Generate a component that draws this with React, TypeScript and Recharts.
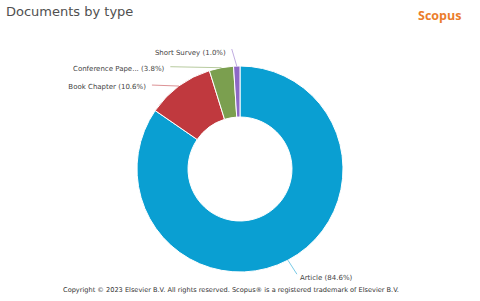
import { Cell, Pie, PieChart } from "recharts";

const categories = ["Article", "Book Chapter", "Conference Paper", "Short Survey"];
const documentShares = [84.6, 10.6, 3.8, 1.0];
const sliceColors = ["#0a9fd2", "#c0393e", "#7b9f4f", "#8d68c6"];

// where each label sits, relative to the point on the rim at the slice's middle
const labelOffsets = [
  { dx: 12, dy: 18 },
  { dx: -33, dy: 1 },
  { dx: -57, dy: 1 },
  { dx: -11, dy: -13 },
];

const RADIAN = Math.PI / 180;

const chartData = categories.map((name, i) => ({ name, value: documentShares[i] }));

function shortName(name: string) {
  return name.length > 15 ? name.slice(0, 15) + "..." : name;
}

function renderLabel(props: any) {
  const { cx, cy, midAngle, outerRadius, percent, index, name } = props;
  const ex = cx + outerRadius * Math.cos(-midAngle * RADIAN);
  const ey = cy + outerRadius * Math.sin(-midAngle * RADIAN);
  const off = labelOffsets[index];
  const lx = ex + off.dx;
  const ly = ey + off.dy;
  const right = off.dx > 0;
  const text = `${shortName(name)} (${(percent * 100).toFixed(1)}%)`;
  const startX = right ? lx - 3 : lx + 6;
  const startY = off.dy < -5 ? ly - 4 : ly - (right ? 4 : 2);
  return (
    <g key={`label-${index}`}>
      <path
        d={`M${ex},${ey} L${startX},${startY}`}
        stroke={sliceColors[index]}
        strokeOpacity={0.55}
        strokeWidth={1}
        fill="none"
      />
      <text
        x={lx}
        y={ly}
        textAnchor={right ? "start" : "end"}
        dominantBaseline="central"
        fontSize={7}
        fill="#444"
        fontFamily="DejaVu Sans"
      >
        {text}
      </text>
    </g>
  );
}

export default function App() {
  return (
    <div style={{ position: "fixed", left: 0, top: 0, width: 480, height: 301, background: "#fff" }}>
      <PieChart width={480} height={301} margin={{ top: 0, right: 0, bottom: 0, left: 0 }}>
        <Pie
          data={chartData}
          dataKey="value"
          nameKey="name"
          cx={240}
          cy={169}
          outerRadius={103}
          innerRadius={52}
          startAngle={90}
          endAngle={-270}
          stroke="#fff"
          strokeWidth={1}
          label={renderLabel}
          labelLine={false}
          isAnimationActive={false}
        >
          {chartData.map((entry, index) => (
            <Cell key={`cell-${index}`} fill={sliceColors[index]} />
          ))}
        </Pie>
      </PieChart>
      <svg
        width={480}
        height={301}
        style={{ position: "absolute", left: 0, top: 0, pointerEvents: "none" }}
      >
        <text x={6} y={16} fontSize={13} fill="#505050" fontFamily="DejaVu Sans">
          Documents by type
        </text>
        <text x={418} y={19.5} fontSize={12.5} fontWeight="bold" fill="#eb7d2b" fontFamily="Open Sans">
          Scopus
        </text>
        <text x={231} y={292} fontSize={6.6} fill="#333" textAnchor="middle" fontFamily="DejaVu Sans">
          Copyright © 2023 Elsevier B.V. All rights reserved. Scopus® is a registered trademark of Elsevier B.V.
        </text>
      </svg>
    </div>
  );
}
